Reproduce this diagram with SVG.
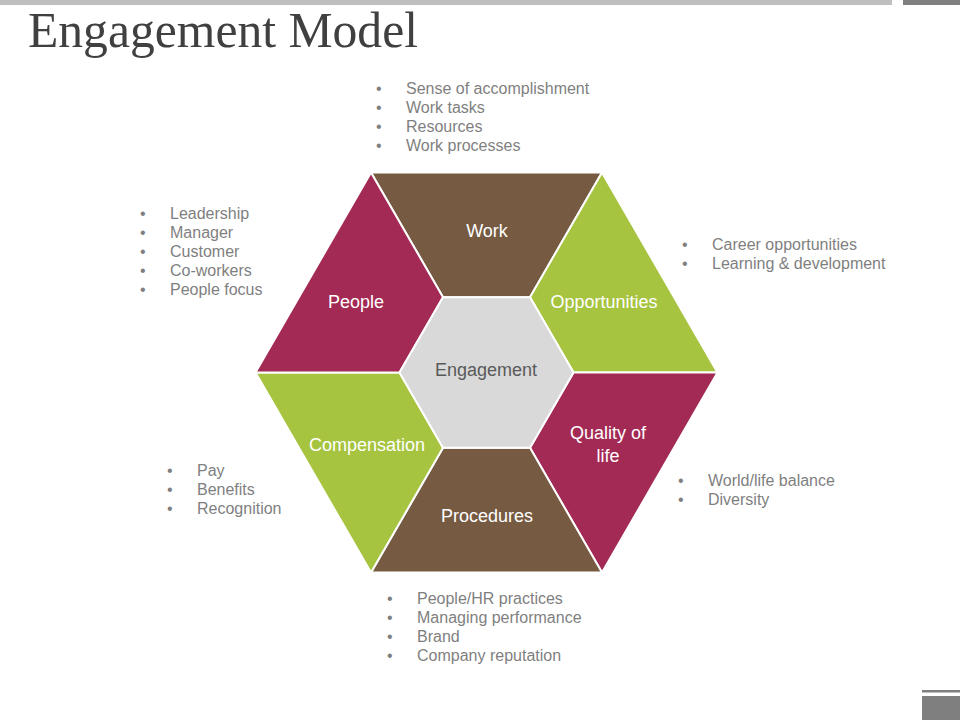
<svg xmlns="http://www.w3.org/2000/svg" width="960" height="720" viewBox="0 0 960 720">
<style>
.seg{stroke:#ffffff;stroke-width:2;stroke-linejoin:miter}
.brown{fill:#765B42}
.red{fill:#A32A55}
.green{fill:#A6C440}
.lbl{font-family:"Liberation Sans",Arial,sans-serif;font-size:18px;fill:#ffffff;text-anchor:middle}
.lst{font-family:"Liberation Sans",Arial,sans-serif;font-size:16px;fill:#7F7F7F}
</style>
<rect x="0" y="0" width="960" height="720" fill="#ffffff"/>
<rect x="0" y="0" width="892" height="5" fill="#BFBFBF"/>
<rect x="903" y="0" width="57" height="5" fill="#7F7F7F"/>
<rect x="922" y="690" width="38" height="2.5" fill="#7F7F7F"/>
<rect x="922" y="696" width="38" height="24" fill="#7F7F7F"/>
<text x="28" y="47" font-family="'Liberation Serif','Times New Roman',serif" font-size="50" fill="#404040" textLength="390" lengthAdjust="spacingAndGlyphs">Engagement Model</text>

<g id="work">
<polygon class="seg brown" points="371,172.5 602,172.5 530,297.2 443,297.2"/>
<text class="lbl" x="487" y="237">Work</text>
</g>
<g id="opportunities">
<polygon class="seg green" points="602,172.5 717.5,372.5 573.5,372.5 530,297.2"/>
<text class="lbl" x="604" y="308">Opportunities</text>
</g>
<g id="quality">
<polygon class="seg red" points="717.5,372.5 602,572.5 530,447.8 573.5,372.5"/>
<text class="lbl" x="608" y="439">Quality of</text>
<text class="lbl" x="608" y="462">life</text>
</g>
<g id="procedures">
<polygon class="seg brown" points="602,572.5 371,572.5 443,447.8 530,447.8"/>
<text class="lbl" x="487" y="522">Procedures</text>
</g>
<g id="compensation">
<polygon class="seg green" points="371,572.5 255.5,372.5 399.5,372.5 443,447.8"/>
<text class="lbl" x="367" y="451">Compensation</text>
</g>
<g id="people">
<polygon class="seg red" points="255.5,372.5 371,172.5 443,297.2 399.5,372.5"/>
<text class="lbl" x="356" y="308">People</text>
</g>
<g id="engagement">
<polygon class="seg" fill="#D9D9D9" points="443,297.2 530,297.2 573.5,372.5 530,447.8 443,447.8 399.5,372.5"/>
<text class="lbl" x="486" y="376" style="fill:#595959">Engagement</text>
</g>

<g id="connectors"></g>

<g id="list-work" class="lst">
<text x="376" y="94">•</text><text x="406" y="94">Sense of accomplishment</text>
<text x="376" y="113">•</text><text x="406" y="113">Work tasks</text>
<text x="376" y="132">•</text><text x="406" y="132">Resources</text>
<text x="376" y="151">•</text><text x="406" y="151">Work processes</text>
</g>
<g id="list-people" class="lst">
<text x="140" y="219">•</text><text x="170" y="219">Leadership</text>
<text x="140" y="238">•</text><text x="170" y="238">Manager</text>
<text x="140" y="257">•</text><text x="170" y="257">Customer</text>
<text x="140" y="276">•</text><text x="170" y="276">Co-workers</text>
<text x="140" y="295">•</text><text x="170" y="295">People focus</text>
</g>
<g id="list-opportunities" class="lst">
<text x="682" y="250">•</text><text x="712" y="250">Career opportunities</text>
<text x="682" y="269">•</text><text x="712" y="269">Learning &amp; development</text>
</g>
<g id="list-quality" class="lst">
<text x="678" y="486">•</text><text x="708" y="486">World/life balance</text>
<text x="678" y="505">•</text><text x="708" y="505">Diversity</text>
</g>
<g id="list-compensation" class="lst">
<text x="167" y="476">•</text><text x="197" y="476">Pay</text>
<text x="167" y="495">•</text><text x="197" y="495">Benefits</text>
<text x="167" y="514">•</text><text x="197" y="514">Recognition</text>
</g>
<g id="list-procedures" class="lst">
<text x="387" y="604">•</text><text x="417" y="604">People/HR practices</text>
<text x="387" y="623">•</text><text x="417" y="623">Managing performance</text>
<text x="387" y="642">•</text><text x="417" y="642">Brand</text>
<text x="387" y="661">•</text><text x="417" y="661">Company reputation</text>
</g>
</svg>
